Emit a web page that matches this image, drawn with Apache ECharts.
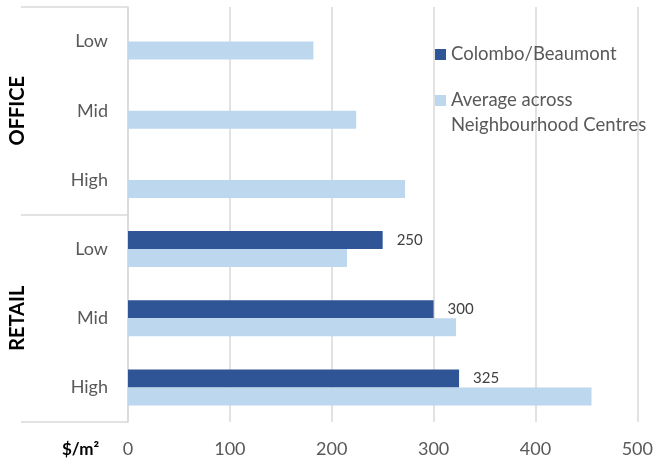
<!DOCTYPE html>
<html>
<head>
<meta charset="utf-8">
<script src="https://cdn.jsdelivr.net/npm/echarts@6/dist/echarts.min.js"></script>
<style>html,body{margin:0;padding:0;background:#fff}#c{width:656px;height:464px}</style>
</head>
<body>
<div id="c"></div>
<script>
var categories = ['Low', 'Mid', 'High', 'Low', 'Mid', 'High'];
var groups = ['OFFICE', 'RETAIL'];
var colomboValues = [null, null, null, 250, 300, 325];
var averageValues = [182, 224, 272, 215, 322, 455];
var xTicks = { min: 0, max: 500, interval: 100 };
var seriesNames = ['Colombo/Beaumont', 'Average across\nNeighbourhood Centres'];
var unitLabel = '$/m\u00b2';

var FONT = 'Lato';
var chart = echarts.init(document.getElementById('c'));
chart.setOption({
  animation: false,
  textStyle: { fontFamily: FONT },
  grid: { left: 128, right: 18, top: 7, bottom: 42, containLabel: false },
  legend: [
    {
      data: [seriesNames[0]], orient: 'vertical', left: 430, top: 38,
      itemWidth: 11, itemHeight: 11, icon: 'rect', selectedMode: false,
      textStyle: { fontFamily: FONT, fontSize: 18.5, color: '#595959', lineHeight: 23 }
    },
    {
      data: [seriesNames[1]], orient: 'vertical', left: 430, top: 58,
      itemWidth: 11, itemHeight: 11, icon: 'rect', selectedMode: false,
      formatter: function (n) { return ' \n' + n; },
      textStyle: { fontFamily: FONT, fontSize: 18.5, color: '#595959', lineHeight: 25 }
    }
  ],
  xAxis: {
    type: 'value', min: xTicks.min, max: xTicks.max, interval: xTicks.interval,
    axisLine: { show: false }, axisTick: { show: false },
    axisLabel: { fontFamily: FONT, fontSize: 18, color: '#595959', margin: 18 },
    splitLine: { lineStyle: { color: '#d9d9d9', width: 1.5 } }
  },
  yAxis: [
    {
      type: 'category', data: categories, inverse: true,
      axisLine: { show: true, lineStyle: { color: '#d9d9d9', width: 1.5 } },
      axisTick: { show: false },
      axisLabel: { fontFamily: FONT, fontSize: 18, color: '#595959', margin: 20 }
    },
    {
      type: 'category', data: groups, inverse: true, position: 'left',
      axisLine: { show: false },
      axisTick: { show: true, length: 107, lineStyle: { color: '#d9d9d9', width: 1.5 } },
      axisLabel: { fontFamily: FONT, fontSize: 20, fontWeight: 'bold', color: '#000', rotate: 90, margin: 100 }
    }
  ],
  graphic: [
    { type: 'text', left: 62, top: 441, style: { text: unitLabel, fontFamily: FONT, fontSize: 17, fontWeight: 'bold', fill: '#000' } }
  ],
  series: [
    {
      name: seriesNames[0], type: 'bar', data: colomboValues, barWidth: 18, barGap: '0%',
      itemStyle: { color: '#2F5597' },
      label: { show: true, position: 'right', distance: 14, fontFamily: FONT, fontSize: 15, color: '#404040' }
    },
    {
      name: seriesNames[1], type: 'bar', data: averageValues, barWidth: 18, barGap: '0%',
      itemStyle: { color: '#BDD7EE' }
    }
  ]
});
</script>
</body>
</html>
